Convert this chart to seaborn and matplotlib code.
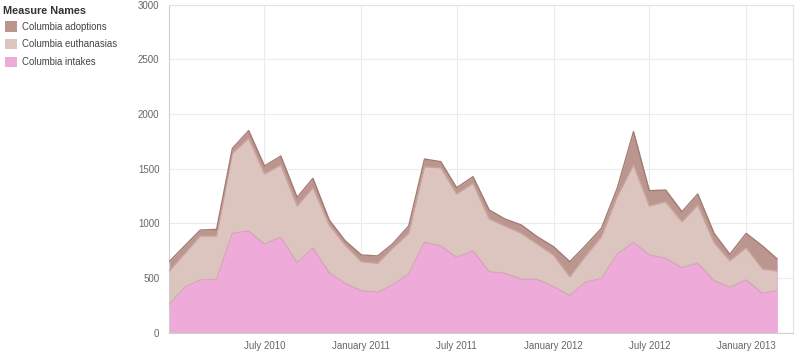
import numpy as np
import pandas as pd
import matplotlib
matplotlib.use("Agg")
import matplotlib.pyplot as plt
import matplotlib.dates as mdates
from matplotlib.patches import Patch
import seaborn as sns

# ---- data ----
months = pd.date_range("2010-01-01", periods=39, freq="MS")
intakes = [260, 421, 482, 488, 909, 930, 811, 872, 640, 772, 549, 452, 384,
           370, 436, 537, 827, 793, 690, 747, 558, 543, 488, 488, 421, 339,
           461, 497, 717, 827, 711, 680, 595, 635, 476, 415, 482, 360, 384]
euthanasias = [304, 311, 402, 396, 732, 848, 641, 662, 519, 554, 436, 350, 266,
               265, 336, 372, 691, 716, 579, 619, 482, 433, 421, 323, 290, 173,
               234, 381, 527, 707, 448, 518, 420, 533, 347, 244, 296, 223, 180]
adoptions = [86, 70, 55, 61, 45, 70, 73, 82, 79, 86, 46, 40, 61,
             67, 39, 67, 71, 55, 57, 61, 82, 64, 76, 67, 76, 138,
             98, 77, 77, 305, 140, 107, 92, 101, 86, 58, 131, 210, 110]
series_names = ["Columbia adoptions", "Columbia euthanasias", "Columbia intakes"]
legend_title = "Measure Names"
x_tick_dates = ["2010-07-01", "2011-01-01", "2011-07-01", "2012-01-01", "2012-07-01", "2013-01-01"]
x_tick_labels = ["July 2010", "January 2011", "July 2011", "January 2012", "July 2012", "January 2013"]
y_ticks = [0, 500, 1000, 1500, 2000, 2500, 3000]

fill_colors = {"Columbia adoptions": "#ba968f",
               "Columbia euthanasias": "#dcc5be",
               "Columbia intakes": "#eeaad9"}
edge_colors = {"Columbia adoptions": "#a47a73",
               "Columbia euthanasias": "#c9a49c",
               "Columbia intakes": "#d9a3bd"}

sns.set_theme(style="white")
plt.rcParams["font.family"] = ["Liberation Sans", "DejaVu Sans"]

fig = plt.figure(figsize=(8.0, 3.52), dpi=100)
ax = fig.add_axes([0.2115, 0.0548, 0.7798, 0.9318])

x = mdates.date2num(months.to_pydatetime())
c1 = np.array(intakes, dtype=float)
c2 = c1 + np.array(euthanasias, dtype=float)
c3 = c2 + np.array(adoptions, dtype=float)

ax.fill_between(x, 0, c1, color=fill_colors["Columbia intakes"], lw=0, zorder=2)
ax.fill_between(x, c1, c2, color=fill_colors["Columbia euthanasias"], lw=0, zorder=2)
ax.fill_between(x, c2, c3, color=fill_colors["Columbia adoptions"], lw=0, zorder=2)

df = pd.DataFrame({"x": np.concatenate([x, x, x]),
                   "y": np.concatenate([c1, c2, c3]),
                   "s": ["Columbia intakes"] * len(x) + ["Columbia euthanasias"] * len(x)
                        + ["Columbia adoptions"] * len(x)})
sns.lineplot(data=df, x="x", y="y", hue="s", palette=edge_colors, lw=1.0,
             legend=False, ax=ax, zorder=3, estimator=None, sort=False)
ax.vlines(x[-1], 0, c3[-1], color=fill_colors["Columbia intakes"], lw=0.6, zorder=3)

ax.set_xlim(mdates.date2num(pd.Timestamp("2010-01-01")), mdates.date2num(pd.Timestamp("2013-03-31")))
ax.set_ylim(0, 3000)
ax.set_xlabel("")
ax.set_ylabel("")

tick_pos = mdates.date2num(pd.to_datetime(x_tick_dates).to_pydatetime())
ax.set_xticks(tick_pos)
ax.set_xticklabels(x_tick_labels)
ax.xaxis.set_minor_locator(mdates.MonthLocator())
ax.set_yticks(y_ticks)
ax.set_yticklabels([str(v) for v in y_ticks])

ax.grid(True, which="major", color="#ececec", lw=0.8, zorder=0)
ax.set_axisbelow(True)
ax.tick_params(axis="both", which="major", labelsize=7.0, colors="#cccccc",
               labelcolor="#666666", length=3, width=0.6, direction="out", pad=3)
ax.tick_params(axis="x", which="minor", colors="#d6d6d6", length=2.5, width=0.6, direction="out")
ax.tick_params(axis="y", which="major", pad=4)
for side, sp in ax.spines.items():
    sp.set_visible(True)
    sp.set_linewidth(0.8)
    sp.set_color("#e2e2e2")
ax.spines["left"].set_color("#d0d0d0")
ax.spines["bottom"].set_color("#d0d0d0")

# legend
fig.text(0.004, 1 - 11.0 / 352, legend_title, ha="left", va="center",
         fontsize=7.8, fontweight="bold", color="#333333")
handles = [Patch(facecolor=fill_colors[n], edgecolor="none", label=n) for n in series_names]
leg = fig.legend(handles=handles, loc="upper left",
                 bbox_to_anchor=(0.006, 1 - 21.5 / 352), frameon=False, fontsize=6.9,
                 handlelength=1.25, handleheight=1.25, handletextpad=0.5,
                 labelspacing=0.76, borderaxespad=0, borderpad=0)
for t in leg.get_texts():
    t.set_color("#444444")

fig.savefig("out.png", dpi=100)
